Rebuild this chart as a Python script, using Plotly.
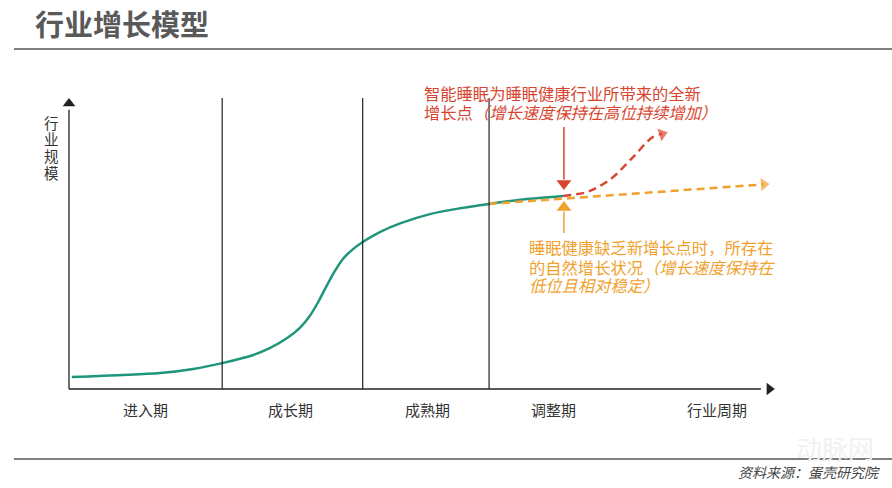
import plotly.graph_objects as go

# ---------------- data (conceptual units: x = industry cycle, y = industry scale) ----------------
stage_labels = ["进入期", "成长期", "成熟期", "调整期"]
stage_bounds = [21.7, 41.6, 59.5]          # dividers between stages
stage_label_x = [10.9, 31.4, 50.8, 68.6]

curve_x = [0.4, 12.9, 17.6, 21.7, 26.1, 28.5, 30.9, 32.7, 34.1, 35.3, 36.4, 37.5,
           38.8, 40.1, 41.6, 44.1, 46.9, 51.1, 55.4, 59.5, 63.9, 70.0]
curve_y = [4.1, 5.5, 6.9, 8.9, 11.7, 14.1, 17.5, 21.0, 25.1, 29.9, 35.0, 39.9,
           44.7, 47.8, 50.5, 54.0, 56.9, 60.1, 62.1, 63.6, 65.0, 66.3]

# high-growth scenario (smart sleep)
high_x = [70.0, 73.4, 75.3, 77.1, 79.9, 82.7, 84.0]
high_y = [66.3, 67.7, 69.9, 72.9, 79.7, 86.6, 87.6]

# natural growth scenario
low_x = [59.5, 98.4]
low_y = [63.6, 70.3]

RED = "#d8452f"
ORANGE = "#f0a12e"
GREEN = "#1f957b"
AXIS = "#222222"
FONT = "Noto Sans CJK SC, Noto Sans, sans-serif"

# pixel mapping: x=0 -> 69px, 7.06 px/unit ; y=0 -> 389px, 2.91 px/unit
W, H = 892, 488
XU, YU = 7.06, 2.91
X0PX, Y0PX = 69, 389
xr = [-X0PX / XU, (W - X0PX) / XU]
yr = [-(H - Y0PX) / YU, Y0PX / YU]

fig = go.Figure()

# axes lines
fig.add_trace(go.Scatter(x=[0, 0], y=[0, 96], mode="lines",
                         line=dict(color=AXIS, width=1.3), hoverinfo="skip"))
fig.add_trace(go.Scatter(x=[0], y=[98.1], mode="markers",
                         marker=dict(symbol="triangle-up", size=11, color=AXIS), hoverinfo="skip"))
fig.add_trace(go.Scatter(x=[0, 98], y=[0, 0], mode="lines",
                         line=dict(color=AXIS, width=1.3), hoverinfo="skip"))
fig.add_trace(go.Scatter(x=[99.2], y=[0], mode="markers",
                         marker=dict(symbol="triangle-right", size=11, color=AXIS), hoverinfo="skip"))

# stage dividers
for b in stage_bounds:
    fig.add_shape(type="line", x0=b, x1=b, y0=0, y1=100, xref="x", yref="y",
                  line=dict(color=AXIS, width=1.2))

# main curve
fig.add_trace(go.Scatter(x=curve_x, y=curve_y, mode="lines",
                         line=dict(color=GREEN, width=2.5, shape="spline", smoothing=0.8),
                         hoverinfo="skip"))

# natural (orange) dashed line with arrowhead
fig.add_trace(go.Scatter(x=low_x, y=low_y, mode="lines+markers",
                         line=dict(color=ORANGE, width=2.5, dash="8px,5px"),
                         marker=dict(symbol="triangle-up", size=[0, 13], color=ORANGE,
                                     angleref="previous"),
                         hoverinfo="skip"))

# high growth (red) dashed curve with arrowhead
fig.add_trace(go.Scatter(x=high_x, y=high_y, mode="lines+markers",
                         line=dict(color=RED, width=2.5, dash="8px,5px", shape="spline"),
                         marker=dict(symbol="triangle-up", size=[0] * (len(high_x) - 1) + [13],
                                     color=RED, angleref="previous"),
                         hoverinfo="skip"))

# red pointer arrow (down)
fig.add_trace(go.Scatter(x=[70.1, 70.1], y=[90.0, 72], mode="lines",
                         line=dict(color=RED, width=1.5), hoverinfo="skip"))
fig.add_trace(go.Scatter(x=[70.1], y=[70.6], mode="markers",
                         marker=dict(symbol="triangle-down", size=13, color=RED), hoverinfo="skip"))
# orange pointer arrow (up)
fig.add_trace(go.Scatter(x=[70.1, 70.1], y=[53.6, 61], mode="lines",
                         line=dict(color=ORANGE, width=1.5), hoverinfo="skip"))
fig.add_trace(go.Scatter(x=[70.1], y=[62.4], mode="markers",
                         marker=dict(symbol="triangle-up", size=13, color=ORANGE), hoverinfo="skip"))

ann = []
# stage labels
for lab, lx in zip(stage_labels, stage_label_x):
    ann.append(dict(x=lx, y=-7.2, xref="x", yref="y", text=lab, showarrow=False,
                    font=dict(size=15, color="#333333", family=FONT)))
ann.append(dict(x=91.8, y=-6.9, xref="x", yref="y", text="行业周期", showarrow=False,
                font=dict(size=15, color="#333333", family=FONT)))
# y label stacked
for ch, cy in zip("行业规模", [91.75, 86.1, 80.3, 74.5]):
    ann.append(dict(x=-2.41, y=cy, xref="x", yref="y", text=ch, showarrow=False,
                    font=dict(size=14.5, color="#333333", family=FONT)))

# red note
red_lines = ["智能睡眠为睡眠健康行业所带来的全新",
             "增长点<i>（增长速度保持在高位持续增加）</i>"]
for t, ty in zip(red_lines, [101.7, 95.2]):
    ann.append(dict(x=50.0, y=ty, xref="x", yref="y", text=t, showarrow=False,
                    xanchor="left", yanchor="middle",
                    font=dict(size=16.3, color=RED, family=FONT)))
# orange note
org_lines = ["睡眠健康缺乏新增长点时，所存在",
             "的自然增长状况<i>（增长速度保持在</i>",
             "<i>低位且相对稳定）</i>"]
for t, ty in zip(org_lines, [48.8, 42.0, 35.8]):
    ann.append(dict(x=64.9, y=ty, xref="x", yref="y", text=t, showarrow=False,
                    xanchor="left", yanchor="middle",
                    font=dict(size=16.3, color=ORANGE, family=FONT)))

# title & source
ann.append(dict(x=33 / W, y=1 - 23 / H, xref="paper", yref="paper", text="<b>行业增长模型</b>",
                showarrow=False, xanchor="left", yanchor="middle",
                font=dict(size=29, color="#595959", family=FONT)))
ann.append(dict(x=835 / W, y=1 - 447 / H, xref="paper", yref="paper", text="动脉网",
                showarrow=False, xanchor="center", yanchor="middle",
                font=dict(size=26, color="#f1f1f1", family=FONT)))
ann.append(dict(x=882 / W, y=1 - 472 / H, xref="paper", yref="paper", text="<i>资料来源：蛋壳研究院</i>",
                showarrow=False, xanchor="right", yanchor="middle",
                font=dict(size=14, color="#444444", family=FONT)))

fig.add_shape(type="line", xref="paper", yref="paper", x0=14 / W, x1=1,
              y0=1 - 49 / H, y1=1 - 49 / H, line=dict(color="#555555", width=1.5))
fig.add_shape(type="line", xref="paper", yref="paper", x0=14 / W, x1=1,
              y0=1 - 459 / H, y1=1 - 459 / H, line=dict(color="#555555", width=1.5))

fig.update_layout(
    width=W, height=H, margin=dict(l=0, r=0, t=0, b=0),
    paper_bgcolor="white", plot_bgcolor="white", showlegend=False,
    xaxis=dict(range=xr, visible=False, fixedrange=True),
    yaxis=dict(range=yr, visible=False, fixedrange=True),
    annotations=ann,
)

fig.write_html("out.html", config={"displayModeBar": False},
               post_script="document.body.style.margin='0';document.body.style.overflow='hidden';")
